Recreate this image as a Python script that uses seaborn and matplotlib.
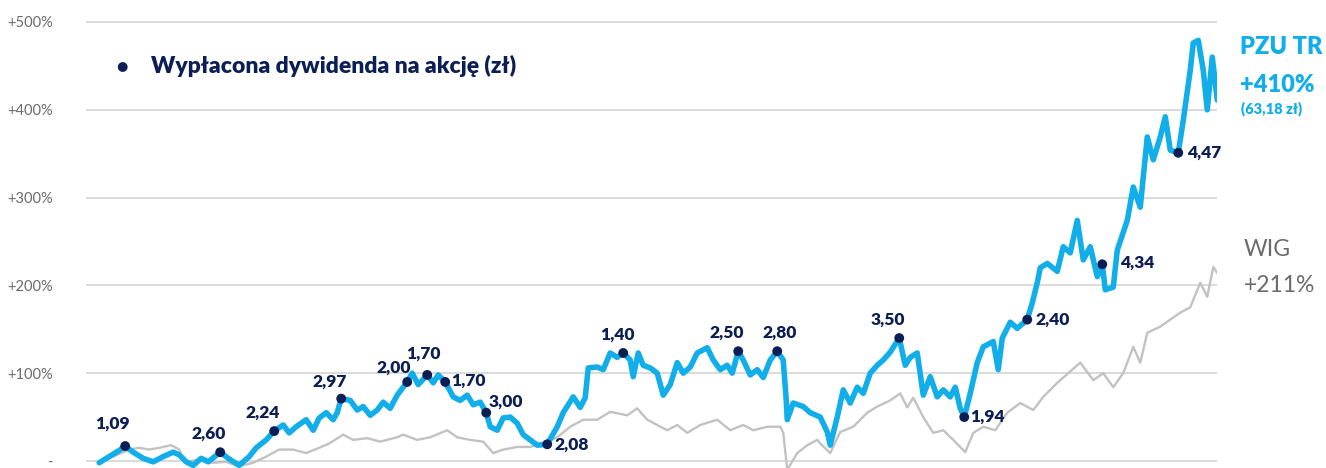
import matplotlib
matplotlib.use("Agg")
import matplotlib.pyplot as plt
import seaborn as sns
import pandas as pd

# time index (arbitrary units, the chart has no x labels) and total return in %
pzu_t = [4, 14, 24, 30, 38, 48, 58, 68, 78, 84, 91, 98, 106, 113, 125, 133, 144, 154, 161, 171,
         179, 188, 194, 201, 211, 218, 224, 231, 238, 242, 246, 255, 262, 268, 275, 282, 288, 295, 302, 312,
         317, 323, 332, 338, 343, 350, 358, 365, 372, 378, 385, 391, 395, 402, 408, 415, 422, 428, 435, 442,
         452, 462, 468, 478, 485, 490, 493, 502, 508, 515, 522, 528, 535, 538, 543, 548, 555, 562, 568, 575,
         582, 588, 595, 602, 612, 618, 625, 632, 637, 643, 648, 655, 662, 668, 675, 682, 688, 691, 692, 698,
         708, 715, 725, 732, 735, 742, 748, 755, 762, 768, 775, 782, 788, 795, 804, 810, 815, 822, 828, 835,
         842, 848, 855, 860, 865, 869, 875, 882, 888, 898, 903, 907, 915, 922, 932, 937, 942, 945, 952, 962,
         968, 975, 982, 988, 995, 1002, 1007, 1010, 1018, 1022, 1032, 1038, 1045, 1052, 1058, 1065, 1070, 1075, 1083, 1088,
         1095, 1098, 1103, 1108, 1112, 1117, 1122]
pzu_v = [-2, 5, 12, 17, 10, 3, -1, 5, 10, 7, -1, -5, 3, -1, 10, 3, -5, 5, 15, 24,
         34, 41, 32, 39, 47, 35, 49, 55, 47, 55, 71, 69, 58, 62, 52, 58, 67, 60, 75, 90,
         100, 87, 98, 89, 98, 90, 73, 69, 75, 64, 67, 55, 39, 35, 49, 50, 43, 30, 24, 18,
         19, 39, 55, 73, 61, 72, 106, 107, 104, 123, 118, 123, 115, 96, 123, 109, 106, 100, 75, 87,
         112, 100, 107, 123, 129, 115, 104, 109, 100, 125, 115, 98, 104, 95, 115, 125, 115, 69, 47, 66,
         62, 55, 50, 33, 18, 50, 81, 66, 84, 77, 100, 109, 115, 124, 140, 109, 118, 123, 75, 96,
         73, 81, 73, 84, 60, 50, 77, 112, 130, 136, 104, 140, 158, 151, 161, 180, 203, 220, 225, 216,
         244, 237, 274, 229, 244, 210, 224, 195, 198, 240, 274, 312, 289, 369, 343, 369, 392, 354, 351, 388,
         445, 476, 479, 445, 400, 460, 411]

wig_t = [4, 18, 34, 44, 54, 64, 76, 84, 89, 101, 118, 131, 144, 158, 171, 184, 198, 211, 224, 234,
         248, 258, 272, 285, 302, 308, 322, 335, 352, 362, 375, 388, 398, 408, 422, 435, 448, 462, 475, 488,
         502, 515, 532, 542, 552, 562, 572, 582, 592, 605, 622, 635, 648, 658, 672, 685, 688, 692, 702, 712,
         722, 725, 735, 745, 758, 772, 782, 795, 805, 812, 818, 828, 838, 848, 858, 870, 878, 888, 900, 912,
         925, 938, 948, 962, 985, 998, 1008, 1018, 1028, 1038, 1045, 1052, 1065, 1075, 1085, 1095, 1105, 1112, 1118, 1122]
wig_v = [-2, 5, 13, 15, 13, 15, 18, 13, -1, 1, -2, -1, -6, -2, 5, 13, 13, 9, 15, 20,
         30, 24, 26, 22, 27, 30, 24, 27, 35, 27, 24, 22, 9, 13, 16, 16, 20, 27, 39, 47,
         47, 56, 52, 60, 47, 41, 35, 41, 32, 41, 47, 35, 41, 35, 39, 39, 32, -10, 9, 18,
         24, 20, 9, 33, 39, 55, 62, 69, 77, 61, 72, 50, 32, 35, 24, 10, 32, 39, 35, 55,
         66, 58, 73, 89, 112, 92, 100, 84, 100, 130, 112, 146, 153, 161, 169, 175, 203, 187, 221, 214]

# dividends paid per share (zł), placed on the PZU TR line
div_t = [30, 125, 179, 246, 312, 332, 350, 391, 452, 528, 643, 682, 804, 869, 932, 1007, 1083]
div_v = [17, 10, 34, 71, 90, 98, 90, 55, 19, 123, 125, 125, 140, 50, 161, 224, 351]
div_lbl = ["1,09", "2,60", "2,24", "2,97", "2,00", "1,70", "1,70", "3,00", "2,08",
           "1,40", "2,50", "2,80", "3,50", "1,94", "2,40", "4,34", "4,47"]

yticks = [0, 100, 200, 300, 400, 500]
ytick_lbl = ["-", "+100%", "+200%", "+300%", "+400%", "+500%"]

blue = "#12aeea"
navy = "#0c1f55"
grey_line = "#c2c2c2"
grey_txt = "#6b6b6b"

pzu = pd.DataFrame({"t": pzu_t, "v": pzu_v})
wig = pd.DataFrame({"t": wig_t, "v": wig_v})
div = pd.DataFrame({"t": div_t, "v": div_v})

sns.set_theme(style="white")
plt.rcParams["font.family"] = ["Lato", "DejaVu Sans"]

fig = plt.figure(figsize=(13.26, 4.68), dpi=100)
ax = fig.add_axes([0.065, 0.0, 0.853, 1.0])

for y in yticks:
    ax.axhline(y, color="#dadada", lw=1.4, zorder=0)

sns.lineplot(data=wig, x="t", y="v", ax=ax, color=grey_line, lw=1.7, legend=False)
sns.lineplot(data=pzu, x="t", y="v", ax=ax, color=blue, lw=4.0, legend=False)
sns.scatterplot(data=div, x="t", y="v", ax=ax, color=navy, s=50, edgecolor="none",
                zorder=5, label="Wypłacona dywidenda na akcję (zł)")

# label offsets in points (dx, dy) and alignment
offs = [(-9, 16, "center"), (-8, 13, "center"), (-8, 13, "center"), (-8, 12, "center"),
        (-10, 10, "center"), (-3, 15, "center"), (4, 1, "left"), (2, 8, "left"),
        (5, 0, "left"), (-4, 13, "center"), (-8, 13, "center"), (2, 13, "center"),
        (-8, 13, "center"), (4, 0, "left"), (6, 0, "left"), (13, 1, "left"), (6, 0, "left")]
for t, v, s, (dx, dy, ha) in zip(div_t, div_v, div_lbl, offs):
    ax.annotate(s, (t, v), xytext=(dx, dy), textcoords="offset points", ha=ha, va="center",
                fontsize=12.5, fontweight="heavy", color=navy, zorder=6)

ax.set_xlim(-9, 1122)
ax.set_ylim(-8, 525)
ax.set_yticks(yticks)
ax.set_yticklabels(ytick_lbl, color=grey_txt, fontsize=10.5)
ax.tick_params(axis="y", length=0, pad=24)
ax.set_xticks([])
ax.set_xlabel("")
ax.set_ylabel("")
sns.despine(ax=ax, left=True, bottom=True)

leg = ax.legend(loc="center left", bbox_to_anchor=(0.077, 0.859), bbox_transform=fig.transFigure,
                frameon=False, handletextpad=0.85, borderpad=0, handlelength=0.8,
                prop={"weight": "heavy", "size": 16.5})
for txt in leg.get_texts():
    txt.set_color(navy)

fig.text(0.935, 0.900, "PZU TR", color=blue, fontsize=17, fontweight="heavy", va="center")
fig.text(0.935, 0.819, "+410%", color=blue, fontsize=17, fontweight="heavy", va="center")
fig.text(0.936, 0.768, "(63,18 zł)", color=blue, fontsize=10.5, fontweight="heavy", va="center")
fig.text(0.938, 0.466, "WIG", color=grey_txt, fontsize=16.5, va="center")
fig.text(0.938, 0.391, "+211%", color=grey_txt, fontsize=16.5, va="center")

fig.savefig("out.png", dpi=100)
